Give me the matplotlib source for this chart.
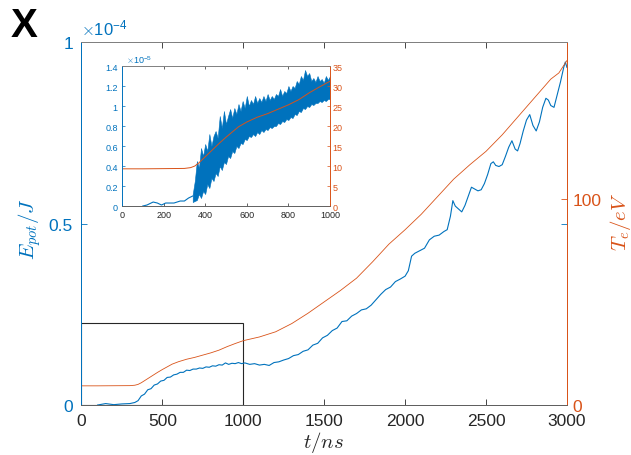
import matplotlib
matplotlib.use("Agg")
import matplotlib.pyplot as plt
from matplotlib.patches import Rectangle

plt.rcParams['font.family'] = ['Liberation Sans', 'DejaVu Sans']
plt.rcParams['mathtext.fontset'] = 'cm'

BLUE = '#0072BD'
ORANGE = '#D95319'
GREY = '#262626'

# E_pot (units of 1e-4 J) over t (ns)
t_epot = [100, 150, 200, 250, 300, 330, 350, 370, 390, 410, 430, 450, 470, 490, 510, 530, 550, 570, 590,
          610, 630, 650, 670, 690, 710, 730, 750, 770, 790, 810, 830, 850, 870, 890, 910, 930, 950, 970,
          990, 1010, 1040, 1070, 1100, 1130, 1160, 1190, 1220, 1250, 1280, 1310, 1340, 1370, 1400, 1430,
          1460, 1490, 1520, 1550, 1580, 1610, 1640, 1670, 1700, 1730, 1760, 1790, 1820, 1850, 1880, 1910,
          1940, 1970, 2000, 2020, 2040, 2060, 2090, 2120, 2150, 2180, 2210, 2240, 2260, 2280, 2295, 2310,
          2330, 2350, 2370, 2390, 2410, 2430, 2450, 2470, 2490, 2510, 2530, 2545, 2560, 2580, 2600, 2620,
          2640, 2660, 2680, 2695, 2710, 2730, 2750, 2770, 2790, 2810, 2830, 2850, 2870, 2885, 2900, 2920,
          2940, 2960, 2980, 2990, 3000]
epot = [0.0, 0.004, 0.001, 0.003, 0.004, 0.007, 0.012, 0.025, 0.03, 0.042, 0.045, 0.055, 0.058, 0.066,
        0.068, 0.076, 0.077, 0.083, 0.085, 0.09, 0.09, 0.096, 0.095, 0.099, 0.099, 0.102, 0.101, 0.105,
        0.104, 0.108, 0.107, 0.111, 0.11, 0.116, 0.112, 0.115, 0.114, 0.117, 0.114, 0.116, 0.112, 0.114,
        0.11, 0.112, 0.109, 0.117, 0.119, 0.124, 0.128, 0.136, 0.139, 0.148, 0.152, 0.165, 0.17, 0.185,
        0.192, 0.205, 0.212, 0.23, 0.232, 0.245, 0.252, 0.262, 0.265, 0.275, 0.29, 0.305, 0.318, 0.325,
        0.34, 0.347, 0.355, 0.37, 0.41, 0.418, 0.425, 0.432, 0.455, 0.465, 0.468, 0.478, 0.483, 0.52,
        0.563, 0.548, 0.54, 0.532, 0.55, 0.575, 0.6, 0.595, 0.59, 0.593, 0.61, 0.635, 0.665, 0.67, 0.66,
        0.657, 0.662, 0.685, 0.71, 0.728, 0.705, 0.7, 0.72, 0.755, 0.785, 0.8, 0.77, 0.755, 0.78, 0.82,
        0.845, 0.84, 0.825, 0.82, 0.855, 0.89, 0.93, 0.945, 0.93]

# electron temperature (eV)
t_te = [0, 100, 200, 300, 330, 350, 370, 390, 410, 430, 450, 470, 500, 530, 560, 600, 650, 700, 750, 800,
        850, 900, 950, 1000, 1100, 1200, 1300, 1400, 1500, 1600, 1700, 1800, 1900, 2000, 2100, 2200,
        2300, 2400, 2500, 2600, 2700, 2800, 2900, 2950, 3000]
te = [9.3, 9.3, 9.35, 9.4, 9.6, 10, 10.8, 11.8, 12.8, 13.8, 14.8, 15.8, 17.2, 18.5, 19.8, 21, 22.2,
      23.1, 24.2, 25.3, 26.6, 28.3, 29.8, 31.2, 33, 35.5, 39.5, 44.5, 50, 55.5, 61.5, 69.5, 78, 85,
      92.5, 101, 109.5, 116.5, 123, 131, 140, 149, 158, 161, 167]

# inset: E_pot (units of 1e-5 J), early part and the noisy band after 340 ns
t_pre = [100, 120, 150, 170, 190, 210, 250, 280, 300, 320, 340]
epot_pre = [0.0, 0.01, 0.04, 0.03, 0.01, 0.03, 0.03, 0.05, 0.05, 0.08, 0.1]
t_band = [340, 350, 360, 370, 380, 390, 400, 410, 420, 430, 440, 450, 460, 470, 480, 490, 500, 510,
          520, 530, 540, 550, 560, 570, 580, 590, 600, 610, 620, 630, 640, 650, 660, 670, 680, 690,
          700, 710, 720, 730, 740, 750, 760, 770, 780, 790, 800, 810, 820, 830, 840, 850, 860, 870,
          880, 890, 900, 910, 920, 930, 940, 950, 960, 970, 980, 990, 1000]
band_hi = [0.12, 0.25, 0.45, 0.38, 0.58, 0.5, 0.62, 0.55, 0.72, 0.6, 0.7, 0.75, 0.68, 0.9, 0.78, 0.95,
           0.82, 0.9, 0.97, 0.88, 0.98, 0.92, 1.02, 0.95, 1.05, 0.98, 1.1, 1.0, 1.06, 1.02, 1.1, 1.03,
           1.08, 1.04, 1.1, 1.05, 1.12, 1.06, 1.1, 1.07, 1.12, 1.1, 1.17, 1.1, 1.15, 1.13, 1.2, 1.15,
           1.2, 1.18, 1.25, 1.22, 1.3, 1.26, 1.36, 1.3, 1.33, 1.25, 1.28, 1.24, 1.3, 1.25, 1.27, 1.23,
           1.3, 1.26, 1.3]
band_lo = [0.04, 0.05, 0.06, 0.12, 0.08, 0.15, 0.12, 0.22, 0.18, 0.28, 0.25, 0.33, 0.3, 0.4, 0.36,
           0.44, 0.42, 0.5, 0.48, 0.55, 0.53, 0.6, 0.58, 0.63, 0.62, 0.67, 0.66, 0.7, 0.69, 0.72, 0.7,
           0.74, 0.72, 0.76, 0.74, 0.77, 0.76, 0.79, 0.78, 0.8, 0.8, 0.83, 0.82, 0.85, 0.84, 0.87,
           0.86, 0.89, 0.88, 0.92, 0.91, 0.95, 0.94, 0.98, 0.97, 1.0, 0.99, 1.02, 1.01, 1.03, 1.03,
           1.05, 1.04, 1.06, 1.05, 1.07, 1.07]

fig = plt.figure(figsize=(6.31, 4.56), dpi=100)

# main axes
ax = fig.add_axes([0.129, 0.1096, 0.7695, 0.7961])
ax2 = ax.twinx()
ax.plot(t_epot, epot, color=BLUE, lw=0.8)
ax2.plot(t_te, te, color=ORANGE, lw=0.6)
ax.add_patch(Rectangle((0, 0), 1000, 0.226, fill=False, ec=GREY, lw=0.8))

ax.set_xlim(0, 3000)
ax.set_ylim(0, 1)
ax2.set_ylim(0, 176)
ax.set_xticks([0, 500, 1000, 1500, 2000, 2500, 3000])
ax.set_yticks([0, 0.5, 1])
ax.set_yticklabels(['0', '0.5', '1'])
ax2.set_yticks([0, 100])

ax.tick_params(axis='x', direction='in', top=True, length=4, width=0.6, colors=GREY,
               labelsize=12.5, pad=6)
ax.tick_params(axis='y', direction='in', right=True, length=4, width=0.6, colors=BLUE,
               labelsize=12.5, pad=6)
ax2.tick_params(axis='y', direction='in', length=4, width=0.6, colors=ORANGE, labelsize=12.5, pad=4)
for a in (ax, ax2):
    a.spines['top'].set_color('#808080')
    a.spines['bottom'].set_color('#606060')
    a.spines['left'].set_color(BLUE)
    a.spines['right'].set_color(ORANGE)
    for s in a.spines.values():
        s.set_linewidth(0.7)

ax.text(0.0, 1.012, r'$\times\mathregular{10^{-4}}$', transform=ax.transAxes, color=BLUE,
        fontsize=12, ha='left', va='bottom')

fig.text(0.0475, 0.498, r'$E_{pot}/J$', color=BLUE, fontsize=15, rotation=90, ha='center', va='center')
fig.text(0.9826, 0.513, r'$T_e/eV$', color=ORANGE, fontsize=15, rotation=90, ha='center', va='center')
fig.text(0.5135, 0.03, r'$t/ns$', color=GREY, fontsize=15, ha='center', va='center')
fig.text(0.017, 0.918, 'X', fontsize=29, fontweight='bold', ha='left', va='baseline')

# inset
ins = fig.add_axes([0.1933, 0.546, 0.3297, 0.3070])
ins2 = ins.twinx()
ins.plot(t_pre, epot_pre, color=BLUE, lw=0.8)
ins.fill_between(t_band, band_lo, band_hi, color=BLUE, lw=0.4)
ins2.plot(t_te, te, color=ORANGE, lw=0.7)
ins.set_xlim(0, 1000)
ins.set_ylim(0, 1.4)
ins2.set_ylim(0, 35)
ins.set_xticks([0, 200, 400, 600, 800, 1000])
ins.set_yticks([0, 0.2, 0.4, 0.6, 0.8, 1.0, 1.2, 1.4])
ins.set_yticklabels(['0', '0.2', '0.4', '0.6', '0.8', '1', '1.2', '1.4'])
ins2.set_yticks([0, 5, 10, 15, 20, 25, 30, 35])
ins.tick_params(axis='x', direction='in', top=True, length=2.5, width=0.5, colors=GREY,
                labelsize=6.5, pad=3)
ins.tick_params(axis='y', direction='in', length=2.5, width=0.5, colors=BLUE, labelsize=6.5, pad=3)
ins2.tick_params(axis='y', direction='in', length=2.5, width=0.5, colors=ORANGE, labelsize=6.5, pad=2)
for a in (ins, ins2):
    a.spines['top'].set_color('#808080')
    a.spines['bottom'].set_color('#606060')
    a.spines['left'].set_color(BLUE)
    a.spines['right'].set_color(ORANGE)
    for s in a.spines.values():
        s.set_linewidth(0.6)
ins.text(0.02, 1.01, r'$\times\mathregular{10^{-5}}$', transform=ins.transAxes, color=BLUE,
         fontsize=6.5, ha='left', va='bottom')

fig.savefig('out.png', dpi=100)
